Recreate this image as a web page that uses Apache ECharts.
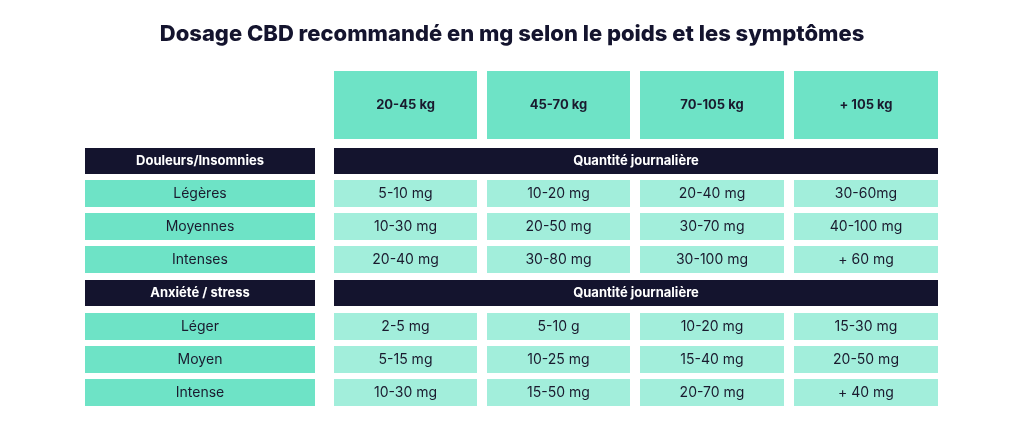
<!DOCTYPE html>
<html><head><meta charset="utf-8">
<script src="https://cdn.jsdelivr.net/npm/echarts@6/dist/echarts.min.js"></script>
<style>html,body{margin:0;padding:0;background:#fff}#c{width:1024px;height:427px}</style>
</head><body><div id="c"></div>
<script>
const title = "Dosage CBD recommandé en mg selon le poids et les symptômes";
const weights = ["20-45 kg", "45-70 kg", "70-105 kg", "+ 105 kg"];
const groupHeader = "Quantité journalière";
const group1 = "Douleurs/Insomnies";
const group1Rows = ["Légères", "Moyennes", "Intenses"];
const group1Values = [
  ["5-10 mg", "10-20 mg", "20-40 mg", "30-60mg"],
  ["10-30 mg", "20-50 mg", "30-70 mg", "40-100 mg"],
  ["20-40 mg", "30-80 mg", "30-100 mg", "+ 60 mg"]
];
const group2 = "Anxiété / stress";
const group2Rows = ["Léger", "Moyen", "Intense"];
const group2Values = [
  ["2-5 mg", "5-10 g", "10-20 mg", "15-30 mg"],
  ["5-15 mg", "10-25 mg", "15-40 mg", "20-50 mg"],
  ["10-30 mg", "15-50 mg", "20-70 mg", "+ 40 mg"]
];

// layout (pixel-space axes)
const colX = [[85,315],[334,477],[487,630],[640,784],[794,938]];
const headY = [71,139];
const rowsY = [[148,174],[180,207],[213,240],[246,273],[280,306],[313,340],[346,373],[379,406]];
const C = {head:'#6ee3c6', cell:'#a2eedb', dark:'#14142e', text:'#1a1a2e'};

const cells = []; // [x0,x1,y0,y1,text,fill,textColor,bold,size]
weights.forEach((w,i)=>cells.push([colX[i+1][0],colX[i+1][1],headY[0],headY[1],w,C.head,C.text,700,13]));
function group(start, name, rows, vals){
  cells.push([colX[0][0],colX[0][1],rowsY[start][0],rowsY[start][1],name,C.dark,'#fff',700,13]);
  cells.push([colX[1][0],colX[4][1],rowsY[start][0],rowsY[start][1],groupHeader,C.dark,'#fff',700,13]);
  rows.forEach((r,j)=>{
    const y = rowsY[start+1+j];
    cells.push([colX[0][0],colX[0][1],y[0],y[1],r,C.head,C.text,400,14]);
    vals[j].forEach((v,k)=>cells.push([colX[k+1][0],colX[k+1][1],y[0],y[1],v,C.cell,C.text,400,14]));
  });
}
group(0, group1, group1Rows, group1Values);
group(4, group2, group2Rows, group2Values);

const chart = echarts.init(document.getElementById('c'));
chart.setOption({
  animation:false,
  title:{text:title,left:'center',top:18,textStyle:{fontFamily:'Inter',fontWeight:800,fontSize:22,color:'#14142e'}},
  grid:{left:0,right:0,top:0,bottom:0},
  xAxis:{type:'value',min:0,max:1024,show:false},
  yAxis:{type:'value',min:0,max:427,inverse:true,show:false},
  series:[{
    type:'custom',
    data:cells,
    encode:{x:[0,1],y:[2,3]},
    renderItem:(p,api)=>{
      const a = api.coord([api.value(0),api.value(2)]);
      const b = api.coord([api.value(1),api.value(3)]);
      const d = cells[p.dataIndex];
      return {type:'group',children:[
        {type:'rect',shape:{x:a[0],y:a[1],width:b[0]-a[0],height:b[1]-a[1]},style:{fill:d[5]}},
        {type:'text',x:(a[0]+b[0])/2,y:(a[1]+b[1])/2,style:{text:d[4],fill:d[6],fontFamily:'Inter',fontWeight:d[7],fontSize:d[8],align:'center',verticalAlign:'middle'}}
      ]};
    }
  }]
});
</script></body></html>
